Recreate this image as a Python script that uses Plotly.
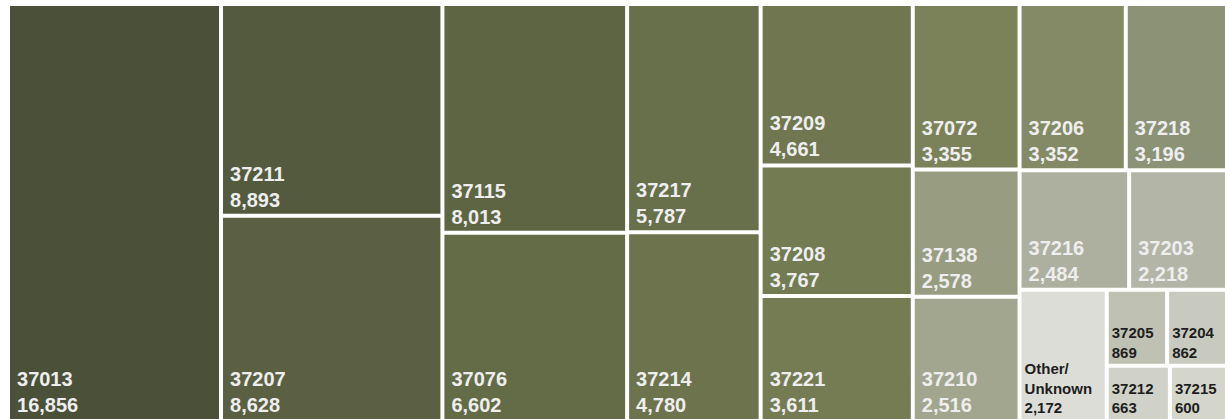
import plotly.graph_objects as go

# ---- data ----
zip_codes = ["37013", "37211", "37207", "37115", "37076", "37217", "37214",
             "37209", "37208", "37221", "37072", "37138", "37210",
             "37206", "37218", "37216", "37203", "Other/<br>Unknown",
             "37205", "37204", "37212", "37215"]
counts = [16856, 8893, 8628, 8013, 6602, 5787, 4780,
          4661, 3767, 3611, 3355, 2578, 2516,
          3352, 3196, 2484, 2218, 2172,
          869, 862, 663, 600]
# layout grouping of the tiles (columns / rows of the treemap)
tile_group = ["c1", "c2", "c2", "c3", "c3", "c4", "c4",
              "c5", "c5", "c5", "c6", "c6", "c6",
              "c7a", "c7a", "c7b", "c7b", "c7o",
              "c7r1", "c7r1", "c7r2", "c7r2"]
groups = ["c1", "c2", "c3", "c4", "c5", "c6", "c7",
          "c7a", "c7b", "c7c", "c7o", "c7g", "c7r1", "c7r2"]
group_parent = ["all", "all", "all", "all", "all", "all", "all",
                "c7", "c7", "c7", "c7c", "c7c", "c7g", "c7g"]

# ---- styles ----
tile_colors = ["#4b5038", "#545a3d", "#5a6041", "#5e6543", "#646b47", "#686f4b", "#6c734d",
               "#6f7650", "#737b52", "#757c54", "#7b8259", "#989d82", "#a2a68e",
               "#838a65", "#8c9276", "#adb09f", "#b3b6a6", "#dcddd7",
               "#bfc2b2", "#c8cabf", "#d0d2c7", "#d4d6cc"]
small = {"Other/<br>Unknown", "37205", "37204", "37212", "37215"}

n_grp = 1 + len(groups)
ids = ["all"] + groups + [f"z{i}" for i in range(len(zip_codes))]
parents = [""] + group_parent + tile_group
values = [0] * n_grp + counts
sp = "\u2009"
texts = [""] * n_grp + [
    (f"<b>{z}<br>{v:,}</b>" if z in small else f"<b>{sp}{z}<br>{sp}{v:,}</b>")
    for z, v in zip(zip_codes, counts)]
colors = ["white"] * n_grp + tile_colors
font_colors = ["white"] * n_grp + [
    "#1e1e1e" if z in small else "#eeeeee" for z in zip_codes]
font_sizes = [20] * n_grp + [15 if z in small else 20 for z in zip_codes]

fig = go.Figure(go.Treemap(
    ids=ids,
    labels=ids,
    parents=parents,
    values=values,
    branchvalues="remainder",
    sort=False,
    text=texts,
    textinfo="text",
    textposition="bottom left",
    textfont=dict(family="Liberation Sans, Arial, sans-serif",
                  size=font_sizes, color=font_colors),
    marker=dict(colors=colors, line=dict(width=0),
                pad=dict(t=0, l=0, r=0, b=0)),
    tiling=dict(packing="slice-dice", pad=4),
    pathbar=dict(visible=False),
    hoverinfo="skip",
    root=dict(color="white"),
))
fig.update_layout(
    width=1225, height=419,
    margin=dict(l=10, t=6, r=0, b=0),
    paper_bgcolor="white",
)
fig.write_html("out.html",
               config={"displayModeBar": False},
               post_script="document.body.style.margin='0';"
                           "document.body.style.overflow='hidden';")
